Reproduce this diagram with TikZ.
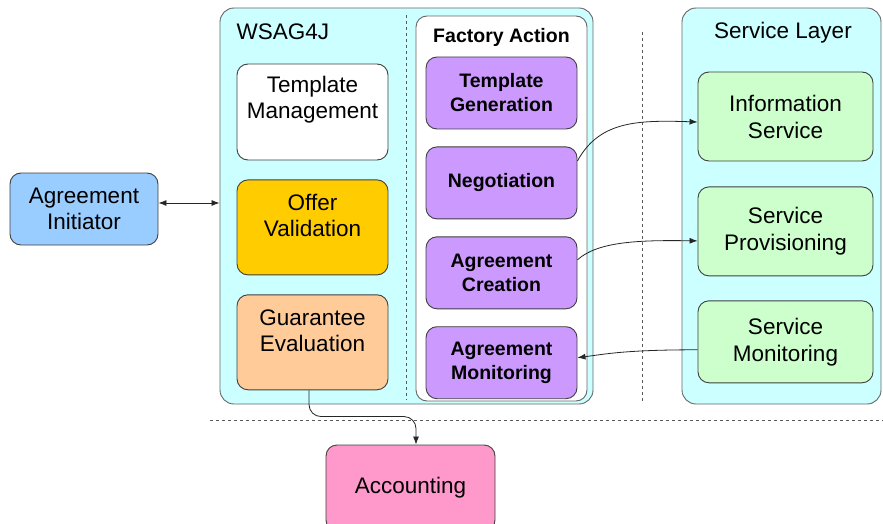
\documentclass[tikz,border=0pt]{standalone}
\usepackage{fontspec}
\setmainfont{Liberation Sans}
\usepackage{xcolor}
\usepackage{tikz}
\usetikzlibrary{positioning,arrows.meta,calc}
\definecolor{initblue}{HTML}{99CCFF}
\definecolor{wsagcyan}{HTML}{CCFFFF}
\definecolor{offeryellow}{HTML}{FFCC00}
\definecolor{guarpeach}{HTML}{FFCC99}
\definecolor{actpurple}{HTML}{CC99FF}
\definecolor{svcgreen}{HTML}{CCFFCC}
\definecolor{accpink}{HTML}{FF99CC}

\begin{document}
\begin{tikzpicture}[x=1pt, y=-1pt,
    box/.style={draw=black!75, line width=0.9pt, rectangle, rounded corners=11pt, align=center, inner sep=0pt},
    plain/.style={font=\fontsize{22.5}{26}\selectfont, align=center},
    act/.style={box, fill=actpurple, minimum width=151pt, minimum height=72pt, font=\bfseries\fontsize{19.5}{24}\selectfont},
    svc/.style={box, fill=svcgreen, minimum width=175pt, font=\fontsize{22.5}{27}\selectfont},
    link/.style={-{Latex[length=8pt,width=6pt]}, line width=0.8pt, black!85},
    sep/.style={dash pattern=on 3pt off 3pt, line width=0.9pt, black!65}]
    \useasboundingbox (0,0) rectangle (883,524);

    % containers
    \node[box, fill=wsagcyan, draw=black!60, rounded corners=14pt, minimum width=373pt, minimum height=396pt] (wsag) at (406.5,206) {};
    \node[font=\fontsize{22.5}{26}\selectfont, anchor=west] (wsagtitle) at (233,32) {WSAG4J};
    \node[box, fill=white, draw=black!60, minimum width=171pt, minimum height=385pt] (factory) at (501.5,208.5) {};
    \node[font=\bfseries\fontsize{19.5}{24}\selectfont] (factorytitle) at (501.5,37) {Factory Action};
    \node[box, fill=wsagcyan, draw=black!60, rounded corners=14pt, minimum width=199pt, minimum height=396pt] (layer) at (781.5,206) {};
    \node[plain] (layertitle) at (783,33) {Service Layer};

    % separators
    \draw[sep] (406,15) -- (406,400);
    \draw[sep] (642,32) -- (642,403);
    \draw[sep] (210,420) -- (883,420);

    % left column
    \node[box, fill=white, minimum width=151pt, minimum height=96pt] (tmgmt) at (312.5,112) {};
    \node[plain, yshift=12pt] (tmgmttext) at (tmgmt) {Template\\Management};
    \node[box, fill=offeryellow, minimum width=151pt, minimum height=95pt, below=19pt of tmgmt] (offer) {};
    \node[plain, yshift=12pt] (offertext) at (offer) {Offer\\Validation};
    \node[box, fill=guarpeach, minimum width=151pt, minimum height=95pt, below=19pt of offer] (guar) {};
    \node[plain, yshift=12pt] (guartext) at (guar) {Guarantee\\Evaluation};

    % factory actions
    \node[act] (tgen) at (501.5,93) {Template\\Generation};
    \node[act, below=17pt of tgen] (nego) {Negotiation};
    \node[act, below=17pt of nego] (acreate) {Agreement\\Creation};
    \node[act, below=17pt of acreate] (amon) {Agreement\\Monitoring};

    % service layer
    \node[svc, minimum height=89pt] (info) at (785.5,116.5) {Information\\Service};
    \node[svc, minimum height=89pt, below=25pt of info] (prov) {Service\\Provisioning};
    \node[svc, minimum height=82pt, below=24pt of prov] (smon) {Service\\Monitoring};

    % outside
    \node[box, fill=initblue, minimum width=148pt, minimum height=72pt, font=\fontsize{22.5}{26}\selectfont] (init) at (84,209) {Agreement\\Initiator};
    \node[box, fill=accpink, minimum width=169pt, minimum height=86pt, font=\fontsize{22.5}{26}\selectfont] (acc) at (410.5,488) {Accounting};

    % connectors
    \draw[{Latex[length=8pt,width=6pt]}-{Latex[length=8pt,width=6pt]}, line width=0.8pt, black!85] ([yshift=6pt]init.east) -- ([yshift=3pt]wsag.west);
    \draw[link] ([yshift=22pt]nego.east) .. controls +(22,-40) and +(-60,-2) .. ([yshift=-5.5pt]info.west);
    \draw[link] ([yshift=13pt]acreate.east) .. controls +(20,-18) and +(-60,-1) .. ([yshift=-9.5pt]prov.west);
    \draw[link] ([yshift=-8pt]smon.west) .. controls +(-70,0) and +(30,-4) .. ([yshift=5pt]amon.east);
    \draw[link, rounded corners=12pt] ([xshift=-3.5pt]guar.south) |- ([xshift=5.5pt,yshift=28pt]acc.north) -- ([xshift=5.5pt]acc.north);
\end{tikzpicture}
\end{document}
